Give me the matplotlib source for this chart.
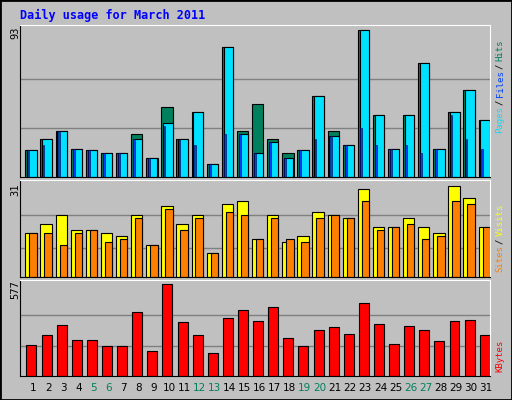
import numpy as np
import matplotlib.pyplot as plt
from matplotlib.patches import Rectangle

days = np.arange(1, 32)
hits = [17, 24, 29, 18, 17, 15, 15, 27, 12, 44, 24, 41, 8, 82, 29, 46, 24, 15, 17, 51, 29, 20, 93, 39, 18, 39, 72, 18, 41, 55, 36]
files = [17, 24, 29, 18, 17, 15, 15, 24, 12, 34, 24, 41, 8, 82, 27, 15, 22, 12, 17, 51, 26, 20, 93, 39, 18, 39, 72, 18, 41, 55, 36]
pages = [17, 20, 29, 18, 17, 15, 15, 24, 12, 32, 24, 20, 8, 27, 27, 15, 22, 12, 17, 24, 26, 20, 31, 20, 18, 20, 15, 18, 39, 24, 18]
sites = [15, 18, 21, 16, 16, 15, 14, 21, 11, 24, 18, 21, 8, 25, 26, 13, 21, 12, 14, 22, 21, 20, 30, 17, 17, 20, 17, 15, 31, 27, 17]
visits = [15, 15, 11, 15, 16, 12, 13, 20, 11, 23, 16, 20, 8, 22, 21, 13, 20, 13, 12, 20, 21, 20, 26, 16, 17, 18, 13, 14, 26, 25, 17]
kbytes = [196, 254, 317, 222, 222, 190, 190, 399, 158, 577, 336, 254, 146, 361, 412, 342, 431, 235, 190, 285, 304, 260, 456, 323, 203, 311, 285, 216, 342, 349, 254]
weekend = [5, 6, 12, 13, 19, 20, 26, 27]

W, H = 512, 400
X0, X1 = 0.14, 31.25
fig = plt.figure(figsize=(W / 100, H / 100), dpi=100, facecolor='#C0C0C0')
fig.patches.append(Rectangle((0, 0), 1, 1, transform=fig.transFigure, fill=False,
                             edgecolor='black', linewidth=2))
fig.text(20 / W, 1 - 15 / H, 'Daily usage for March 2011', color='#0000FF',
         family='DejaVu Sans Mono', weight='bold', fontsize=8.5, va='center')

def panel(top, bottom):
    ax = fig.add_axes([20 / W, 1 - bottom / H, 470 / W, (bottom - top) / H])
    ax.set_facecolor('#C0C0C0')
    ax.set_xlim(X0, X1)
    ax.set_xticks([])
    ax.set_yticks([])
    for s in ax.spines.values():
        s.set_color('black')
    ax.spines['right'].set_color('white')
    ax.spines['top'].set_color('white')
    return ax

ek = dict(edgecolor='black', linewidth=0.8)

# Hits / Files / Pages
ax1 = panel(25, 177)
ax1.set_ylim(0, 96)
for g in [31, 62]:
    ax1.axhline(g, color='#808080', linewidth=1, zorder=0)
ax1.bar(days - 0.13, hits, width=0.75, color='#00805C', **ek)
ax1.bar(days - 0.07, files, width=0.62, color='#00E0FF', **ek)
ax1.bar(days - 0.3, pages, width=0.12, color='#0040FF', edgecolor='#000040', linewidth=0.4)

# Sites / Visits
ax2 = panel(180, 277)
ax2.set_ylim(0, 33)
for g in [10, 21]:
    ax2.axhline(g, color='#808080', linewidth=1, zorder=0)
ax2.bar(days - 0.13, sites, width=0.75, color='#FFFF00', **ek)
ax2.bar(days, visits, width=0.49, color='#FF8000', **ek)

# KBytes
ax3 = panel(280, 376)
ax3.set_ylim(0, 600)
for g in [190, 380]:
    ax3.axhline(g, color='#808080', linewidth=1, zorder=0)
ax3.bar(days - 0.1, kbytes, width=0.66, color='#FF0000', **ek)

for d in days:
    xp = 20 + (d - X0) / (X1 - X0) * 470
    fig.text(xp / W, 1 - 388 / H, str(d),
             color='#00805C' if d in weekend else 'black', fontsize=7.5, ha='center', va='center')

lab = dict(rotation=90, fontsize=7.5, family='DejaVu Sans Mono', va='center', ha='center')
fig.text(15 / W, 1 - 33 / H, '93', **lab)
fig.text(15 / W, 1 - 190 / H, '31', **lab)
fig.text(15 / W, 1 - 290 / H, '577', **lab)

rl = dict(lab, fontsize=6.5)
x = 500 / W
fig.text(x, 1 - 120 / H, 'Pages', color='#00E0FF', **rl)
fig.text(x, 1 - 102 / H, '/', color='black', **rl)
fig.text(x, 1 - 84 / H, 'Files', color='#0040FF', **rl)
fig.text(x, 1 - 66 / H, '/', color='black', **rl)
fig.text(x, 1 - 50 / H, 'Hits', color='#00805C', **rl)
fig.text(x, 1 - 259 / H, 'Sites', color='#FF8000', **rl)
fig.text(x, 1 - 241 / H, '/', color='black', **rl)
fig.text(x, 1 - 220 / H, 'Visits', color='#FFFF00', **rl)
fig.text(x, 1 - 356 / H, 'KBytes', color='#FF0000', **rl)

fig.savefig('out.png', dpi=100, facecolor=fig.get_facecolor())
